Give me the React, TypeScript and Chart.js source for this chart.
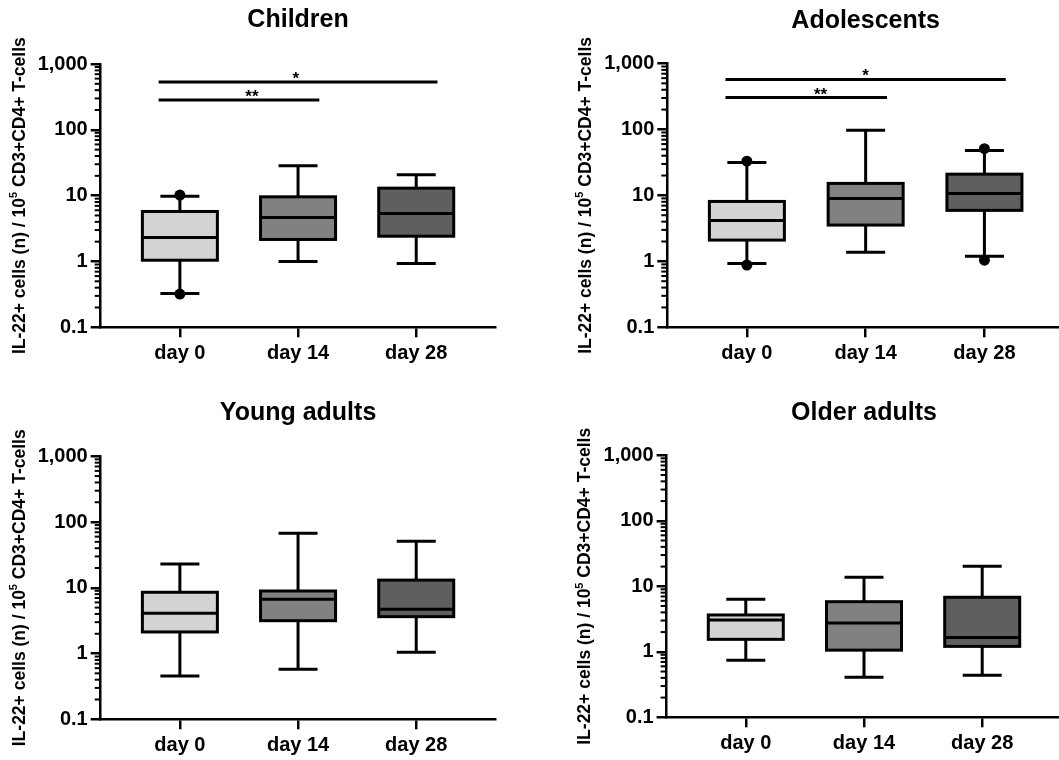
import React, { useEffect, useRef } from 'react';
import { Chart, registerables } from 'chart.js';

Chart.register(...registerables);

// ---------- data ----------
const categories = ['day 0', 'day 14', 'day 28'];
const yTickValues = [0.1, 1, 10, 100, 1000];
const yTickLabels = ['0.1', '1', '10', '100', '1,000'];
const boxColors = ['#d3d3d3', '#818181', '#5f5f5f'];

// Children
const childrenMin = [0.325, 1.0, 0.93];
const childrenQ1 = [1.045, 2.16, 2.42];
const childrenMedian = [2.31, 4.66, 5.36];
const childrenQ3 = [5.75, 9.6, 13.0];
const childrenMax = [9.8, 28.4, 20.7];
const childrenPointDay = [0, 0];
const childrenPointValue = [10.2, 0.32];
const childrenSigText = ['*', '**'];
const childrenSigFrom = [0, 0];
const childrenSigTo = [2, 1];
const childrenSigValue = [532, 283];
const childrenSigLabelAt = [0.98, 0.61];

// Adolescents
const adolMin = [0.93, 1.37, 1.19];
const adolQ1 = [2.1, 3.55, 5.93];
const adolMedian = [4.18, 9.0, 10.7];
const adolQ3 = [8.1, 15.2, 21.0];
const adolMax = [31.6, 97.5, 48];
const adolPointDay = [0, 0, 2, 2];
const adolPointValue = [33, 0.88, 51, 1.04];
const adolSigText = ['*', '**'];
const adolSigFrom = [0, 0];
const adolSigTo = [2, 1];
const adolSigValue = [572, 305];
const adolSigLabelAt = [1.0, 0.62];

// Young adults
const youngMin = [0.456, 0.575, 1.045];
const youngQ1 = [2.13, 3.16, 3.64];
const youngMedian = [4.1, 6.68, 4.71];
const youngQ3 = [8.55, 8.94, 13.1];
const youngMax = [23, 67.5, 51];

// Older adults
const olderMin = [0.74, 0.41, 0.44];
const olderQ1 = [1.55, 1.06, 1.21];
const olderMedian = [3.06, 2.75, 1.66];
const olderQ3 = [3.65, 5.82, 6.8];
const olderMax = [6.33, 13.7, 20.2];

// ---------- layout / style ----------
const FONT = '"Liberation Sans", Arial, Helvetica, sans-serif';
const PANEL_H = 380;

type Frame = {
  left: number; top: number; width: number;
  areaLeft: number; areaRight: number; areaTop: number; areaBottom: number; titleMid: number;
};

type Panel = {
  title: string;
  min: number[]; q1: number[]; median: number[]; q3: number[]; max: number[];
  pointDay: number[]; pointValue: number[];
  sigText: string[]; sigFrom: number[]; sigTo: number[]; sigValue: number[]; sigLabelAt: number[];
  frame: Frame;
};

const panels: Panel[] = [
  {
    title: 'Children',
    min: childrenMin, q1: childrenQ1, median: childrenMedian, q3: childrenQ3, max: childrenMax,
    pointDay: childrenPointDay, pointValue: childrenPointValue,
    sigText: childrenSigText, sigFrom: childrenSigFrom, sigTo: childrenSigTo, sigValue: childrenSigValue, sigLabelAt: childrenSigLabelAt,
    frame: { left: 0, top: 0, width: 530, areaLeft: 100.7, areaRight: 495.4, areaTop: 64, areaBottom: 327.3, titleMid: 20.5 },
  },
  {
    title: 'Adolescents',
    min: adolMin, q1: adolQ1, median: adolMedian, q3: adolQ3, max: adolMax,
    pointDay: adolPointDay, pointValue: adolPointValue,
    sigText: adolSigText, sigFrom: adolSigFrom, sigTo: adolSigTo, sigValue: adolSigValue, sigLabelAt: adolSigLabelAt,
    frame: { left: 530, top: 0, width: 540, areaLeft: 137.3, areaRight: 534, areaTop: 63.5, areaBottom: 327.3, titleMid: 21 },
  },
  {
    title: 'Young adults',
    min: youngMin, q1: youngQ1, median: youngMedian, q3: youngQ3, max: youngMax,
    pointDay: [], pointValue: [],
    sigText: [], sigFrom: [], sigTo: [], sigValue: [], sigLabelAt: [],
    frame: { left: 0, top: 380, width: 530, areaLeft: 100.7, areaRight: 495.4, areaTop: 76.3, areaBottom: 339.3, titleMid: 33.5 },
  },
  {
    title: 'Older adults',
    min: olderMin, q1: olderQ1, median: olderMedian, q3: olderQ3, max: olderMax,
    pointDay: [], pointValue: [],
    sigText: [], sigFrom: [], sigTo: [], sigValue: [], sigLabelAt: [],
    frame: { left: 530, top: 380, width: 540, areaLeft: 136.6, areaRight: 531.4, areaTop: 75.3, areaBottom: 337.3, titleMid: 33.5 },
  },
];

const BOX_HALF = 37.5;
const CAP_HALF = 19.5;
const SIG_EXT = 0.18;

function makePlugin(p: Panel) {
  return {
    id: 'boxWhiskers',
    afterDatasetsDraw(chart: any) {
      const ctx: CanvasRenderingContext2D = chart.ctx;
      const xs = chart.scales.x;
      const ys = chart.scales.y;
      const area = chart.chartArea;
      ctx.save();
      ctx.strokeStyle = '#000';
      ctx.lineCap = 'butt';

      // minor log ticks
      ctx.lineWidth = 2;
      for (let e = -1; e < 3; e++) {
        for (let k = 2; k <= 9; k++) {
          const y = ys.getPixelForValue(k * Math.pow(10, e));
          ctx.beginPath();
          ctx.moveTo(area.left - 6, y);
          ctx.lineTo(area.left, y);
          ctx.stroke();
        }
      }

      // whiskers, boxes, medians
      ctx.lineWidth = 3;
      for (let i = 0; i < categories.length; i++) {
        const x = xs.getPixelForValue(i);
        const yMin = ys.getPixelForValue(p.min[i]);
        const yQ1 = ys.getPixelForValue(p.q1[i]);
        const yMed = ys.getPixelForValue(p.median[i]);
        const yQ3 = ys.getPixelForValue(p.q3[i]);
        const yMax = ys.getPixelForValue(p.max[i]);
        ctx.beginPath();
        ctx.moveTo(x, yQ1); ctx.lineTo(x, yMin);
        ctx.moveTo(x, yQ3); ctx.lineTo(x, yMax);
        ctx.moveTo(x - CAP_HALF, yMin); ctx.lineTo(x + CAP_HALF, yMin);
        ctx.moveTo(x - CAP_HALF, yMax); ctx.lineTo(x + CAP_HALF, yMax);
        ctx.stroke();
        ctx.strokeRect(x - BOX_HALF, yQ3, BOX_HALF * 2, yQ1 - yQ3);
        ctx.beginPath();
        ctx.moveTo(x - BOX_HALF, yMed); ctx.lineTo(x + BOX_HALF, yMed);
        ctx.stroke();
      }

      // significance bars
      ctx.lineWidth = 3;
      ctx.fillStyle = '#000';
      ctx.font = `bold 17px ${FONT}`;
      ctx.textAlign = 'center';
      ctx.textBaseline = 'alphabetic';
      for (let s = 0; s < p.sigText.length; s++) {
        const y = ys.getPixelForValue(p.sigValue[s]);
        const x1 = xs.getPixelForValue(p.sigFrom[s] - SIG_EXT);
        const x2 = xs.getPixelForValue(p.sigTo[s] + SIG_EXT);
        ctx.beginPath();
        ctx.moveTo(x1, y); ctx.lineTo(x2, y);
        ctx.stroke();
        ctx.fillText(p.sigText[s], xs.getPixelForValue(p.sigLabelAt[s]), y + 2);
      }

      // y-axis title with superscript
      const cx = area.left - 81;
      const cy = (area.top + area.bottom) / 2;
      ctx.translate(cx, cy);
      ctx.rotate(-Math.PI / 2);
      const mainFont = `bold 17.5px ${FONT}`;
      const supFont = `bold 11px ${FONT}`;
      const t1 = 'IL-22+ cells (n) / 10';
      const t2 = '5';
      const t3 = ' CD3+CD4+ T-cells';
      ctx.font = mainFont;
      const w1 = ctx.measureText(t1).width;
      const w3 = ctx.measureText(t3).width;
      ctx.font = supFont;
      const w2 = ctx.measureText(t2).width;
      const x0 = -(w1 + w2 + w3) / 2;
      ctx.textAlign = 'left';
      ctx.textBaseline = 'middle';
      ctx.font = mainFont;
      ctx.fillText(t1, x0, 0);
      ctx.font = supFont;
      ctx.fillText(t2, x0 + w1, -6);
      ctx.font = mainFont;
      ctx.fillText(t3, x0 + w1 + w2, 0);
      ctx.restore();
    },
  };
}

function makeConfig(p: Panel): any {
  const f = p.frame;
  const titleSize = 25;
  const titleLH = titleSize * 1.2;
  const padTop = f.titleMid - titleLH / 2;
  const padBottom = f.areaTop - padTop - titleLH;
  const axisGrid = {
    display: true,
    drawOnChartArea: false,
    drawTicks: true,
    tickLength: 10,
    tickWidth: 2.5,
    tickColor: '#000',
    color: '#000',
    lineWidth: 2.5,
    offset: false,
  };
  const border = { display: true, color: '#000', width: 2.5 };
  return {
    type: 'bar',
    data: {
      datasets: [
        {
          type: 'scatter',
          data: p.pointDay.map((d, i) => ({ x: d, y: p.pointValue[i] })),
          backgroundColor: '#000',
          borderColor: '#000',
          pointRadius: 5.5,
          borderWidth: 0,
          order: 0,
        },
        {
          type: 'bar',
          data: categories.map((_, i) => ({ x: i, y: [p.q1[i], p.q3[i]] })),
          backgroundColor: boxColors,
          borderWidth: 0,
          barThickness: BOX_HALF * 2,
          grouped: false,
          inflateAmount: 0,
          order: 1,
        },
      ],
    },
    options: {
      animation: false,
      responsive: false,
      events: [],
      layout: { padding: { left: 0, top: 0, bottom: 0, right: f.width - f.areaRight } },
      plugins: {
        legend: { display: false },
        tooltip: { enabled: false },
        title: {
          display: true,
          text: p.title,
          color: '#000',
          fullSize: false,
          font: { family: FONT, size: titleSize, weight: 'bold', lineHeight: 1.2 },
          padding: { top: padTop, bottom: padBottom },
        },
      },
      scales: {
        x: {
          type: 'linear',
          min: -0.67,
          max: 2.67,
          offset: false,
          afterBuildTicks: (s: any) => { s.ticks = categories.map((_, i) => ({ value: i })); },
          afterFit: (s: any) => { s.height = PANEL_H - f.areaBottom; },
          grid: axisGrid,
          border,
          ticks: {
            autoSkip: false,
            maxRotation: 0,
            color: '#000',
            padding: 4,
            font: { family: FONT, size: 20, weight: 'bold' },
            callback: (v: any) => categories[v] ?? '',
          },
        },
        y: {
          type: 'logarithmic',
          min: 0.1,
          max: 1000,
          afterBuildTicks: (s: any) => { s.ticks = yTickValues.map((v) => ({ value: v })); },
          afterFit: (s: any) => { s.width = f.areaLeft; },
          grid: axisGrid,
          border,
          ticks: {
            autoSkip: false,
            color: '#000',
            padding: 3,
            font: { family: FONT, size: 20, weight: 'bold' },
            callback: (v: any) => {
              const idx = yTickValues.findIndex((t) => Math.abs(t / v - 1) < 1e-6);
              return idx >= 0 ? yTickLabels[idx] : '';
            },
          },
        },
      },
    },
    plugins: [makePlugin(p)],
  };
}

function PanelChart({ panel }: { panel: Panel }) {
  const ref = useRef<HTMLCanvasElement>(null);
  useEffect(() => {
    const chart = new Chart(ref.current as HTMLCanvasElement, makeConfig(panel));
    return () => chart.destroy();
  }, [panel]);
  const f = panel.frame;
  return (
    <canvas
      ref={ref}
      width={f.width}
      height={PANEL_H}
      style={{ position: 'absolute', left: f.left, top: f.top, width: f.width, height: PANEL_H }}
    />
  );
}

export default function App() {
  return (
    <div
      style={{
        position: 'fixed', left: 0, top: 0, width: 1059, height: 760,
        overflow: 'hidden', background: '#fff',
      }}
    >
      {panels.map((p) => (
        <PanelChart key={p.title} panel={p} />
      ))}
    </div>
  );
}
